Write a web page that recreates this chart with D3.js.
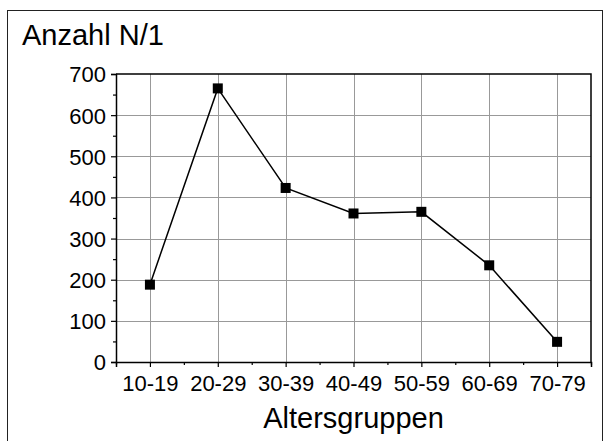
<!DOCTYPE html>
<html>
<head>
<meta charset="utf-8">
<script src="https://cdn.jsdelivr.net/npm/d3@7"></script>
<style>
  body { margin: 0; background: #fff; }
  text { font-family: "Liberation Sans", Arial, sans-serif; fill: #000; }
</style>
</head>
<body>
<div id="chart"></div>
<script>
// Data
const ageGroups = ["10-19", "20-29", "30-39", "40-49", "50-59", "60-69", "70-79"]
const counts = [188, 665, 423, 361, 365, 235, 49]
const yTicks = [0, 100, 200, 300, 400, 500, 600, 700]
const yTitle = "Anzahl N/1"
const xTitle = "Altersgruppen"

const WIDTH = 605
const HEIGHT = 441
const plot = { left: 116, right: 591, top: 74, bottom: 362 }

const svg = d3.select("#chart")
    .append("svg")
    .attr("width", WIDTH)
    .attr("height", HEIGHT)

// outer frame (bottom edge runs off the picture)
svg.append("rect")
    .attr("x", 7.5).attr("y", 10.5)
    .attr("width", 595).attr("height", 440)
    .attr("fill", "none")
    .attr("stroke", "#222")
    .attr("stroke-width", 1)

// categories sit on integer positions, axis runs half a step beyond each end
const x = d3.scaleLinear()
    .domain([-0.5, ageGroups.length - 0.5])
    .range([plot.left, plot.right])

const y = d3.scaleLinear()
    .domain([0, 700])
    .range([plot.bottom, plot.top])

// grid
const grid = svg.append("g").attr("stroke", "#999").attr("stroke-width", 1)
grid.selectAll(".vg")
    .data(ageGroups)
    .enter().append("line")
    .attr("x1", (d, i) => Math.round(x(i)) + 0.5)
    .attr("x2", (d, i) => Math.round(x(i)) + 0.5)
    .attr("y1", plot.top)
    .attr("y2", plot.bottom)
grid.selectAll(".hg")
    .data(yTicks.filter(t => t > 0 && t < 700))
    .enter().append("line")
    .attr("x1", plot.left)
    .attr("x2", plot.right)
    .attr("y1", d => Math.round(y(d)) + 0.5)
    .attr("y2", d => Math.round(y(d)) + 0.5)

// frame of the plot (top and right)
svg.append("path")
    .attr("d", `M${plot.left},${plot.top}H${plot.right}V${plot.bottom}`)
    .attr("fill", "none")
    .attr("stroke", "#000")
    .attr("stroke-width", 1.5)

// y axis: major ticks every 100, minor every 50
const yMinor = d3.axisLeft(y)
    .tickValues(d3.range(50, 700, 100))
    .tickSize(3)
    .tickFormat("")
svg.append("g")
    .attr("transform", `translate(${plot.left},0)`)
    .call(yMinor)
    .call(g => g.select(".domain").remove())

const yAxis = d3.axisLeft(y)
    .tickValues(yTicks)
    .tickSize(5)
    .tickPadding(5)
svg.append("g")
    .attr("transform", `translate(${plot.left},0)`)
    .call(yAxis)
    .call(g => g.selectAll("text").style("font-size", "22px").attr("dy", "0.36em"))

// x axis: major ticks at the groups, minor between them
const xMinor = d3.axisBottom(x)
    .tickValues(d3.range(-0.5, ageGroups.length, 1))
    .tickSize(3)
    .tickFormat("")
svg.append("g")
    .attr("transform", `translate(0,${plot.bottom})`)
    .call(xMinor)
    .call(g => g.select(".domain").remove())

const xAxis = d3.axisBottom(x)
    .tickValues(d3.range(ageGroups.length))
    .tickFormat(i => ageGroups[i])
    .tickSize(5)
    .tickPadding(8)
svg.append("g")
    .attr("transform", `translate(0,${plot.bottom})`)
    .call(xAxis)
    .call(g => g.selectAll("text").style("font-size", "22px"))

svg.selectAll(".domain").attr("stroke-width", 1.5)
svg.selectAll(".tick line").attr("stroke-width", 1.2)

// line and markers
const line = d3.line()
    .x((d, i) => x(i))
    .y(d => y(d))

svg.append("path")
    .datum(counts)
    .attr("d", line)
    .attr("fill", "none")
    .attr("stroke", "#000")
    .attr("stroke-width", 1.5)

svg.selectAll(".marker")
    .data(counts)
    .enter().append("rect")
    .attr("x", (d, i) => x(i) - 5)
    .attr("y", d => y(d) - 5)
    .attr("width", 10)
    .attr("height", 10)
    .attr("fill", "#000")

// titles
svg.append("text")
    .attr("x", 22)
    .attr("y", 45)
    .style("font-size", "29px")
    .text(yTitle)

svg.append("text")
    .attr("x", (plot.left + plot.right) / 2)
    .attr("y", 428)
    .attr("text-anchor", "middle")
    .style("font-size", "29px")
    .text(xTitle)
</script>
</body>
</html>
